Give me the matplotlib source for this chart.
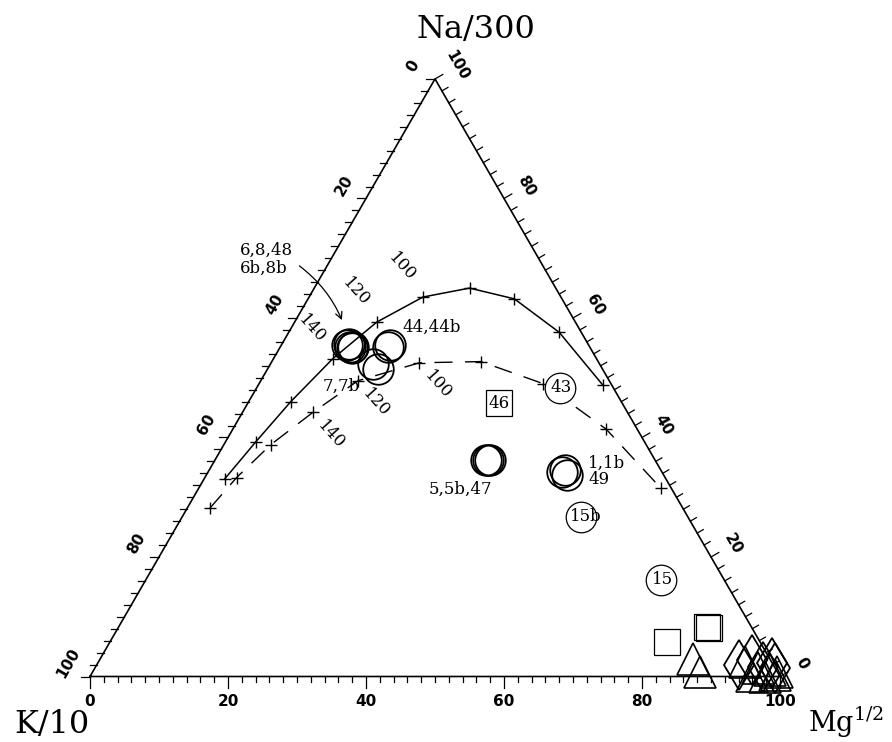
import numpy as np
import matplotlib
matplotlib.use("Agg")
import matplotlib.pyplot as plt

plt.rcParams['mathtext.fontset'] = 'dejavuserif'

# compositions in % of (Na/300 + K/10 + Mg^1/2)
# full equilibrium line, a cross every 20 degC from 200 down to 20 degC
full_na = [33.1, 39.3, 46.0, 53.2, 59.3, 63.5, 65.0, 63.2, 57.6, 48.8]
full_k = [63.9, 56.3, 47.9, 38.2, 28.8, 20.0, 12.5, 6.9, 3.2, 1.3]
full_mg = [3.0, 4.4, 6.1, 8.6, 11.9, 16.5, 22.5, 29.9, 39.2, 49.9]

# partial equilibrium line
part_na = [28.2, 33.3, 38.8, 44.2, 49.5, 52.5, 52.7, 49.0, 41.4, 31.5]
part_k = [68.5, 62.1, 54.4, 45.6, 36.4, 26.0, 17.0, 9.8, 4.5, 1.5]
part_mg = [3.3, 4.6, 6.8, 10.2, 14.1, 21.5, 30.3, 41.2, 54.1, 67.0]

temp_labels = ['140', '120', '100']   # crosses 4, 5, 6 of each line

# springs (open circles)
circ_na = [55.4, 55.2, 54.9, 55.1, 55.7,   # 6, 8, 48, 6b, 8b
           55.1, 55.4,                     # 44, 44b
           52.3, 51.5,                     # 7, 7b
           36.3, 36.3, 36.2,               # 5, 5b, 47
           34.2, 34.5, 33.8]               # 1, 1b, 49
circ_k = [35.0, 34.7, 34.6, 34.3, 34.6,
          29.2, 28.8,
          32.8, 32.5,
          24.5, 23.9, 24.2,
          14.5, 13.9, 14.0]
circ_mg = [9.6, 10.1, 10.5, 10.6, 9.7,
           15.7, 15.8,
           14.9, 16.0,
           39.2, 39.8, 39.6,
           51.3, 51.6, 52.2]

# single samples with the number written in the symbol
tag_names = ['43', '15b', '15']
tag_na = [48.3, 26.7, 16.2]
tag_k = [7.7, 15.5, 9.1]
tag_mg = [44.0, 57.8, 74.7]

box_names = ['46']
box_na = [45.7]
box_k = [17.9]
box_mg = [36.4]

# waters of other types
sq_na = [5.7, 8.3, 8.1]
sq_k = [13.5, 6.5, 6.3]
sq_mg = [80.8, 85.2, 85.6]

tri_na = [3.0, 0.7, 2.4, 1.4, 1.1, 0.7, 0.1, 0.0, 0.3]
tri_k = [11.1, 11.2, 3.9, 2.5, 0.9, 0.1, 4.0, 2.2, 0.6]
tri_mg = [85.9, 88.1, 93.7, 96.1, 98.0, 99.2, 95.9, 97.8, 99.1]

dia_na = [1.9, 2.8, 1.6, 2.3, 1.4]
dia_k = [5.0, 2.6, 1.7, 0.0, 0.0]
dia_mg = [93.1, 94.6, 96.7, 97.7, 98.6]

axis_ticks = [0, 20, 40, 60, 80, 100]

H = np.sqrt(3) / 2
PX = 6.9  # pixels per percent unit


def tern(na, k, mg):
    na, k, mg = (np.asarray(a, float) for a in (na, k, mg))
    s = na + k + mg
    return (mg + na / 2) / s * 100, na / s * 100 * H


fig = plt.figure(figsize=(8.92, 7.42), dpi=100)
ax = fig.add_axes([0, 0, 1, 1])
ax.set_xlim(-90 / PX, 802 / PX)
ax.set_ylim(-65.5 / PX, 676.5 / PX)
ax.axis('off')

serif = 'DejaVu Serif'
tick_font = dict(family='DejaVu Sans', weight='bold', fontsize=11)

# frame
ax.plot([0, 100, 50, 0], [0, 0, 100 * H, 0], color='black', lw=1.2,
        solid_joinstyle='miter')

c30, s30 = np.cos(np.radians(30)), np.sin(np.radians(30))
for v in range(0, 101, 2):
    major = v in axis_ticks
    # bottom edge: Mg^1/2
    L = (11 if major else 5) / PX
    ax.plot([v, v], [0, -L], color='black', lw=0.9)
    # left edge: K/10
    Ls = (9 if major else 7) / PX
    x, y = tern(100 - v, v, 0)
    ax.plot([x, x - Ls], [y, y], color='black', lw=0.9)
    # right edge: Na/300
    xr, yr = tern(v, 0, 100 - v)
    ax.plot([xr, xr + Ls * c30], [yr, yr + Ls * s30], color='black', lw=0.9)
    if major:
        ax.annotate(str(v), (v, 0), xytext=(0, -25), textcoords='offset pixels',
                    ha='center', va='center', **tick_font)
        ax.annotate(str(v), (x, y), xytext=(-22, 13), textcoords='offset pixels',
                    ha='center', va='center', rotation=60, **tick_font)
        ax.annotate(str(v), (xr, yr), xytext=(22, 13), textcoords='offset pixels',
                    ha='center', va='center', rotation=-60, **tick_font)

# corner labels
ax.annotate('Na/300', tern(100, 0, 0), xytext=(41, 41), textcoords='offset pixels',
            ha='center', va='baseline', family=serif, fontsize=23)
ax.annotate('K/10', tern(0, 100, 0), xytext=(-38, -57), textcoords='offset pixels',
            ha='center', va='baseline', family=serif, fontsize=23)
ax.annotate('Mg$^{1/2}$', tern(0, 0, 100), xytext=(104, -56), textcoords='offset pixels',
            ha='right', va='baseline', family=serif, fontsize=19.5)

# equilibrium lines
fx, fy = tern(full_na, full_k, full_mg)
ax.plot(fx, fy, color='black', lw=1.1, marker='+', ms=9, mew=1.0)
px_, py_ = tern(part_na, part_k, part_mg)
ax.plot(px_, py_, color='black', lw=1.0, ls=(0, (13, 9)))
ax.plot(px_, py_, ls='none', color='black', marker='+', ms=9, mew=1.0)

temp_font = dict(family=serif, fontsize=12, rotation=-48, ha='center', va='center')
for i, t in zip([3, 4, 5], temp_labels):
    ax.annotate(t, (fx[i], fy[i]), xytext=(-21, 30), textcoords='offset pixels',
                **temp_font)
    ax.annotate(t, (px_[i], py_[i]), xytext=(18, -22), textcoords='offset pixels',
                **temp_font)

# springs
cx, cy = tern(circ_na, circ_k, circ_mg)
ax.plot(cx, cy, ls='none', marker='o', ms=22, mfc='none', mec='black', mew=1.3)

tx, ty = tern(tag_na, tag_k, tag_mg)
ax.plot(tx, ty, ls='none', marker='o', ms=22, mfc='white', mec='black', mew=0.9)
for x, y, name in zip(tx, ty, tag_names):
    dx = 5 if name.endswith('b') else 1
    ax.annotate(name, (x, y), xytext=(dx, 0), textcoords='offset pixels',
                ha='center', va='center', family=serif, fontsize=12)

bx, by = tern(box_na, box_k, box_mg)
ax.plot(bx, by, ls='none', marker='s', ms=19, mfc='white', mec='black', mew=0.9)
for x, y, name in zip(bx, by, box_names):
    ax.annotate(name, (x, y), ha='center', va='center', family=serif, fontsize=12)

sx, sy = tern(sq_na, sq_k, sq_mg)
ax.plot(sx, sy, ls='none', marker='s', ms=19, mfc='none', mec='black', mew=0.9)
trx, try_ = tern(tri_na, tri_k, tri_mg)
ax.plot(trx, try_, ls='none', marker='^', ms=23, mfc='none', mec='black', mew=1.2)
dx_, dy_ = tern(dia_na, dia_k, dia_mg)
ax.plot(dx_, dy_, ls='none', marker='d', ms=25, mfc='none', mec='black', mew=1.3)

# sample group labels
lab = dict(family=serif, fontsize=12)
ax.annotate('6,8,48\n6b,8b', (cx[1], cy[1]), xytext=(-110, 87),
            textcoords='offset pixels', ha='left', va='center', linespacing=1.1,
            arrowprops=dict(arrowstyle='->', color='black', lw=0.9,
                            connectionstyle='arc3,rad=-0.2', relpos=(1.0, 0.45),
                            shrinkA=3, shrinkB=20),
            **lab)
ax.annotate('44,44b', (cx[5], cy[5]), xytext=(14, 20), textcoords='offset pixels',
            ha='left', va='center', **lab)
ax.annotate('7,7b', (cx[7], cy[7]), xytext=(-32, -22), textcoords='offset pixels',
            ha='center', va='center', **lab)
ax.annotate('5,5b,47', (cx[11], cy[11]), xytext=(-28, -29), textcoords='offset pixels',
            ha='center', va='center', **lab)
ax.annotate('1,1b\n49', (cx[13], cy[13]), xytext=(23, -1), textcoords='offset pixels',
            ha='left', va='center', linespacing=1.0, **lab)

fig.savefig('out.png', dpi=100)
